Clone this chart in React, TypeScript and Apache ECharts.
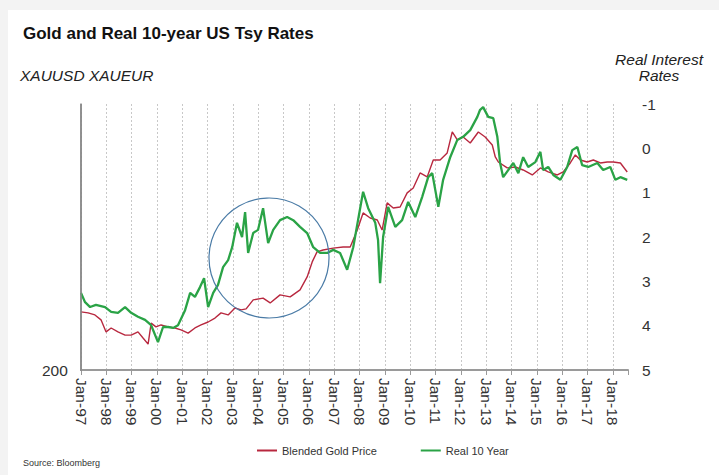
import React, { useEffect, useRef } from "react";
import * as echarts from "echarts";

// Blended gold price (left, log scale)
const goldDates = [
  1997.0, 1997.28, 1997.55, 1997.79, 1997.99, 1998.19, 1998.46, 1998.74, 1998.98, 1999.25,
  1999.45, 1999.65, 1999.77, 1999.96, 2000.16, 2000.44, 2000.71, 2000.95, 2001.23, 2001.5,
  2001.74, 2002.02, 2002.29, 2002.53, 2002.81, 2003.08, 2003.32, 2003.52, 2003.8, 2004.19,
  2004.47, 2004.86, 2005.26, 2005.65, 2005.93, 2006.13, 2006.32, 2006.56, 2006.96, 2007.35,
  2007.63, 2007.91, 2008.14, 2008.42, 2008.7, 2008.89, 2009.09, 2009.33, 2009.6, 2009.88,
  2010.12, 2010.39, 2010.67, 2010.91, 2011.18, 2011.46, 2011.66, 2011.86, 2012.09, 2012.37,
  2012.69, 2012.96, 2013.24, 2013.36, 2013.48, 2013.83, 2014.15, 2014.46, 2014.82, 2015.14,
  2015.45, 2015.81, 2016.04, 2016.32, 2016.52, 2016.72, 2016.99, 2017.23, 2017.51, 2017.78,
  2018.02, 2018.3, 2018.57,
];
const goldValues = [
  336, 333, 327, 313, 281, 291, 281, 273, 273, 281,
  266, 252, 304, 294, 299, 294, 291, 286, 278, 291,
  299, 307, 318, 333, 327, 348, 342, 345, 374, 380,
  364, 391, 384, 409, 459, 525, 574, 584, 594, 600,
  600, 698, 813, 777, 763, 698, 889, 850, 857, 972,
  1016, 1162, 1121, 1304, 1304, 1389, 1675, 1560, 1602, 1518,
  1675, 1602, 1491, 1340, 1281, 1215, 1225, 1193, 1141, 1215,
  1172, 1141, 1172, 1270, 1364, 1304, 1281, 1304, 1270, 1281,
  1281, 1270, 1172,
];

// Real 10-year US Treasury yield (right, inverted)
const rateDates = [
  1997.0, 1997.16, 1997.36, 1997.59, 1997.95, 1998.19, 1998.46, 1998.74, 1998.98, 1999.25,
  1999.53, 1999.77, 2000.04, 2000.24, 2000.44, 2000.64, 2000.83, 2001.11, 2001.31, 2001.5,
  2001.7, 2001.86, 2002.02, 2002.22, 2002.41, 2002.61, 2002.81, 2002.97, 2003.16, 2003.36,
  2003.48, 2003.6, 2003.8, 2003.99, 2004.19, 2004.39, 2004.59, 2004.86, 2005.14, 2005.38,
  2005.65, 2005.93, 2006.17, 2006.44, 2006.72, 2006.96, 2007.23, 2007.51, 2007.75, 2007.94,
  2008.14, 2008.34, 2008.62, 2008.73, 2008.81, 2008.93, 2009.13, 2009.41, 2009.68, 2009.92,
  2010.2, 2010.47, 2010.71, 2010.87, 2011.11, 2011.3, 2011.58, 2011.86, 2012.09, 2012.37,
  2012.65, 2012.76, 2012.88, 2013.08, 2013.28, 2013.44, 2013.55, 2013.67, 2013.87, 2014.07,
  2014.27, 2014.46, 2014.66, 2014.94, 2015.14, 2015.25, 2015.45, 2015.65, 2015.93, 2016.2,
  2016.4, 2016.6, 2016.79, 2017.03, 2017.39, 2017.62, 2017.9, 2018.1, 2018.3, 2018.57,
];
const rateValues = [
  3.26, 3.47, 3.58, 3.53, 3.58, 3.69, 3.71, 3.58, 3.71, 3.8,
  3.87, 3.99, 4.37, 4.03, 4.03, 4.05, 3.99, 3.65, 3.26, 3.35,
  3.13, 2.93, 3.58, 3.26, 3.08, 2.68, 2.52, 2.23, 1.68, 2.0,
  1.44, 2.36, 1.91, 1.84, 1.35, 2.14, 1.84, 1.62, 1.55, 1.62,
  1.77, 1.91, 2.23, 2.36, 2.36, 2.29, 2.36, 2.74, 2.23, 1.62,
  0.98, 1.35, 1.68, 2.07, 3.04, 2.0, 1.32, 1.77, 1.62, 1.21,
  1.55, 1.1, 0.65, 0.56, 1.32, 0.71, 0.2, -0.19, -0.26, -0.41,
  -0.71, -0.87, -0.93, -0.71, -0.68, -0.26, 0.33, 0.65, 0.49, 0.33,
  0.56, 0.2, 0.42, 0.31, 0.08, 0.49, 0.42, 0.6, 0.71, 0.42,
  0.04, -0.03, 0.38, 0.42, 0.33, 0.49, 0.42, 0.71, 0.65, 0.71,
];

const goldAxisLabel = "200";

const FONT = "'Liberation Sans', Arial, Helvetica, sans-serif";

export default function App() {
  const ref = useRef<HTMLDivElement>(null);

  useEffect(() => {
    if (!ref.current) return;
    const chart = echarts.init(ref.current, null, { renderer: "svg" });
    const goldData = goldDates.map((d, i) => [d, goldValues[i]]);
    const rateData = rateDates.map((d, i) => [d, rateValues[i]]);

    chart.setOption({
      animation: false,
      textStyle: { fontFamily: FONT },
      title: [
        {
          text: "Gold and Real 10-year US Tsy Rates",
          left: 18,
          top: 20,
          textStyle: { fontFamily: FONT, fontSize: 17, fontWeight: "bold", color: "#111" },
        },
        {
          text: "XAUUSD XAUEUR",
          left: 15,
          top: 62,
          textStyle: { fontFamily: FONT, fontSize: 15.5, fontStyle: "italic", fontWeight: "normal", color: "#222" },
        },
      ],
      grid: { left: 81, right: 91, top: 104, bottom: 105 },
      legend: {
        left: 252,
        top: 440,
        icon: "rect",
        itemWidth: 20,
        itemHeight: 2,
        itemGap: 44,
        textStyle: { fontFamily: FONT, fontSize: 11, color: "#333" },
        data: ["Blended Gold Price", "Real 10 Year"],
      },
      xAxis: {
        type: "value",
        min: 1997,
        max: 2018.6,
        interval: 1,
        axisLine: { show: true, onZero: false, lineStyle: { color: "#9a9a9a", width: 2 } },
        axisTick: { show: true, length: 5, lineStyle: { color: "#9a9a9a", width: 1 } },
        axisLabel: {
          rotate: -90,
          margin: 8,
          fontSize: 15.5,
          color: "#333",
          fontFamily: FONT,
          formatter: (v: number) =>
            Math.abs(v - Math.round(v)) > 0.01 ? "" : "Jan-" + String(Math.round(v) % 100).padStart(2, "0"),
        },
        splitLine: {
          show: true,
          showMaxLine: false,
          lineStyle: { color: "#c8c8c8", type: [2, 2], width: 1 },
        },
      },
      yAxis: [
        {
          type: "log",
          min: 200,
          max: 2150,
          position: "left",
          axisLine: { show: true, lineStyle: { color: "#8a8a8a", width: 1.5 } },
          axisTick: { show: true, length: 1, lineStyle: { opacity: 0 } },
          splitLine: { show: true, lineStyle: { opacity: 0 } },
          axisLabel: { show: false },
        },
        {
          type: "value",
          inverse: true,
          min: -1,
          max: 5,
          interval: 1,
          position: "right",
          axisLine: { show: false },
          axisTick: { show: false },
          splitLine: { show: false },
          axisLabel: {
            margin: 14,
            fontSize: 15.5,
            color: "#333",
            fontFamily: FONT,
          },
        },
      ],
      series: [
        {
          name: "Blended Gold Price",
          type: "line",
          yAxisIndex: 0,
          data: goldData,
          showSymbol: false,
          lineStyle: { color: "#b8283f", width: 1.4 },
          itemStyle: { color: "#b8283f" },
          z: 2,
        },
        {
          name: "Real 10 Year",
          type: "line",
          yAxisIndex: 1,
          data: rateData,
          showSymbol: false,
          lineStyle: { color: "#2aa346", width: 2.3 },
          itemStyle: { color: "#2aa346" },
          z: 3,
        },
      ],
      graphic: [
        {
          type: "line",
          shape: { x1: 81, y1: 104, x2: 81, y2: 371 },
          style: { stroke: "#8a8a8a", lineWidth: 1.5 },
          z: 50,
        },
        {
          type: "circle",
          shape: { cx: 269, cy: 258, r: 60 },
          style: { fill: "none", stroke: "#4a7ba6", lineWidth: 1.2 },
          z: 10,
        },
        {
          type: "text",
          x: 42,
          y: 370,
          style: {
            text: goldAxisLabel,
            textAlign: "left",
            textVerticalAlign: "middle",
            font: `15.5px ${FONT}`,
            fill: "#333",
          },
          z: 50,
        },
        {
          type: "text",
          x: 659,
          y: 51,
          style: {
            text: "Real Interest\nRates",
            textAlign: "center",
            font: `italic 15.5px ${FONT}`,
            fill: "#222",
            lineHeight: 16.5,
          },
        },
        {
          type: "text",
          x: 23,
          y: 458,
          style: { text: "Source: Bloomberg", font: `9px ${FONT}`, fill: "#333" },
        },
      ],
    });
    return () => chart.dispose();
  }, []);

  return (
    <div style={{ position: "fixed", left: 0, top: 0, width: 719, height: 475, background: "#f3f3f3" }}>
      <div style={{ position: "absolute", left: 8, top: 10, right: 0, bottom: 0, background: "#fff" }} />
      <div ref={ref} style={{ position: "absolute", left: 0, top: 0, width: 719, height: 475 }} />
    </div>
  );
}
